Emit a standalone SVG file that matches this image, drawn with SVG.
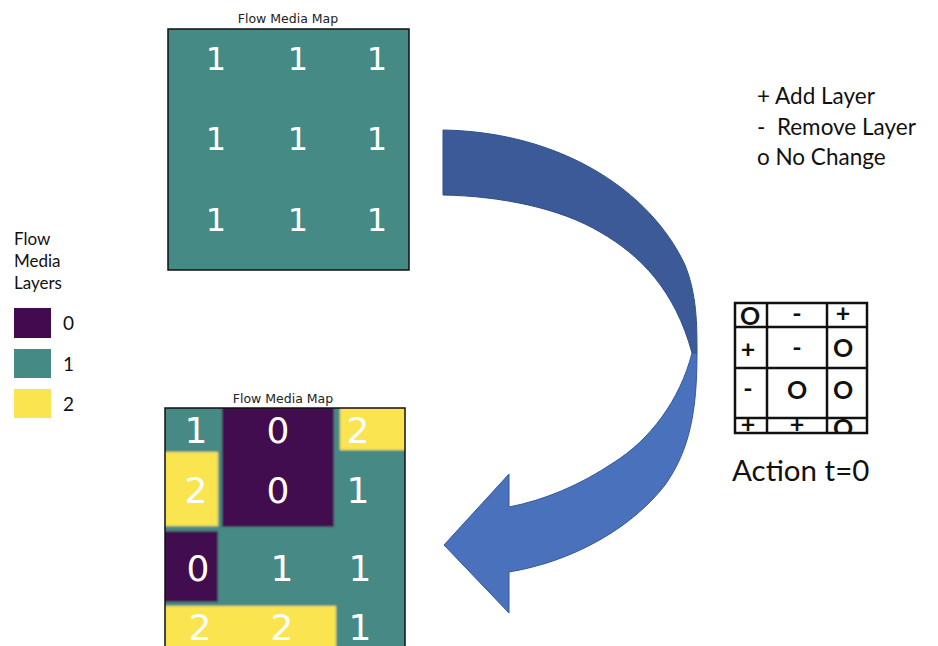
<svg xmlns="http://www.w3.org/2000/svg" width="938" height="646" viewBox="0 0 938 646">
  <style>
    .title { font-family: "DejaVu Sans", sans-serif; font-size: 12.5px; fill: #222; text-anchor: middle; }
    .cell { font-family: "DejaVu Sans", sans-serif; fill: #ffffff; text-anchor: middle; }
    .lbl { font-family: Lato, "Liberation Sans", sans-serif; fill: #111; }
    .act { font-family: Lato, "Liberation Sans", sans-serif; font-size: 25px; font-weight: bold; fill: #111; text-anchor: middle; }
    .grid { fill: none; stroke: #111; stroke-width: 2.5; }
  </style>
  <defs>
    <clipPath id="mapClip"><rect x="165" y="408" width="240" height="240"/></clipPath>
    <clipPath id="tableClip"><rect x="735" y="303" width="132" height="130"/></clipPath>
    <filter id="soft" x="-5%" y="-5%" width="110%" height="110%">
      <feGaussianBlur stdDeviation="1.3"/>
    </filter>
  </defs>
  <rect width="938" height="646" fill="#ffffff"/>

  <!-- initial map: every cell at layer 1 -->
  <g id="map-initial">
    <text class="title" x="288" y="23">Flow Media Map</text>
    <rect x="168" y="29" width="241" height="241" fill="#468a85" stroke="#111" stroke-width="1.5"/>
    <g class="cell" font-size="32">
      <text x="216" y="70">1</text><text x="298" y="70">1</text><text x="377" y="70">1</text>
      <text x="216" y="150">1</text><text x="298" y="150">1</text><text x="377" y="150">1</text>
      <text x="216" y="231">1</text><text x="298" y="231">1</text><text x="377" y="231">1</text>
    </g>
  </g>

  <!-- map after applying the actions -->
  <g id="map-result">
    <text class="title" x="283" y="403">Flow Media Map</text>
    <g clip-path="url(#mapClip)">
      <g filter="url(#soft)">
        <rect x="160" y="403" width="250" height="250" fill="#468a85"/>
        <rect x="222" y="403" width="112" height="124" fill="#420a4f"/>
        <rect x="340" y="403" width="70" height="47" fill="#fae44f"/>
        <rect x="160" y="452" width="58" height="74" fill="#fae44f"/>
        <rect x="160" y="531" width="58" height="71" fill="#420a4f"/>
        <rect x="160" y="606" width="176" height="50" fill="#fae44f"/>
      </g>
    </g>
    <rect x="165" y="408" width="240" height="240" fill="none" stroke="#111" stroke-width="1.5"/>
    <g class="cell" font-size="36">
      <text x="196" y="443">1</text><text x="278" y="443">0</text><text x="358" y="443">2</text>
      <text x="196" y="503">2</text><text x="278" y="503">0</text><text x="358" y="503">1</text>
      <text x="198" y="581">0</text><text x="282" y="581">1</text><text x="360" y="581">1</text>
      <text x="200" y="640">2</text><text x="282" y="640">2</text><text x="360" y="640">1</text>
    </g>
  </g>

  <!-- colour key for the layers -->
  <g id="legend-layers">
    <text class="lbl" font-size="17" x="14" y="245">Flow</text>
    <text class="lbl" font-size="17" x="14" y="267">Media</text>
    <text class="lbl" font-size="17" x="14" y="289">Layers</text>
    <rect x="14" y="308" width="37" height="30" fill="#420a4f"/>
    <rect x="14" y="349" width="37" height="29" fill="#468a85"/>
    <rect x="14" y="389" width="37" height="29" fill="#fae44f"/>
    <text class="lbl" font-size="19" x="63" y="330">0</text>
    <text class="lbl" font-size="19" x="63" y="371">1</text>
    <text class="lbl" font-size="19" x="63" y="411">2</text>
  </g>

  <!-- action symbols key -->
  <g id="legend-actions">
    <text class="lbl" font-size="22.5" x="757" y="104">+ Add Layer</text>
    <text class="lbl" font-size="22.5" x="757" y="135" xml:space="preserve">-  Remove Layer</text>
    <text class="lbl" font-size="22.5" x="757" y="165">o No Change</text>
  </g>

  <!-- action grid at t=0 -->
  <g id="action-table">
    <g clip-path="url(#tableClip)">
      <g class="act">
        <text x="750" y="325">O</text><text x="797" y="322">-</text><text x="843" y="322">+</text>
        <text x="748" y="358">+</text><text x="797" y="356">-</text><text x="843" y="357">O</text>
        <text x="748" y="397">-</text><text x="797" y="399">O</text><text x="843" y="399">O</text>
        <text x="748" y="433">+</text><text x="797" y="433">+</text><text x="843" y="437">O</text>
      </g>
    </g>
    <rect class="grid" x="735" y="303" width="132" height="130"/>
    <path class="grid" d="M767 303V433M827 303V433M735 327H867M735 368H867M735 418H867"/>
    <text class="lbl" font-size="29.5" x="732" y="481">Action t=0</text>
  </g>

  <!-- curved transition arrow -->
  <g id="connectors">
    <path d="M443 130 C560 132 650 190 685 265 C697 295 697 325 697 353 L692 353 C675 290 640 255 600 232 C560 208 500 196 443 195 Z"
          fill="#3b5a97" stroke="#2f4f8a" stroke-width="1"/>
    <path d="M692 353 C680 400 650 440 613 463 C580 485 545 500 509 507 L509 474 L444 545 L509 613 L509 572 C570 562 630 530 665 485 C690 450 697 410 697 353 Z"
          fill="#4a71bb" stroke="#35589a" stroke-width="1"/>
  </g>
</svg>
